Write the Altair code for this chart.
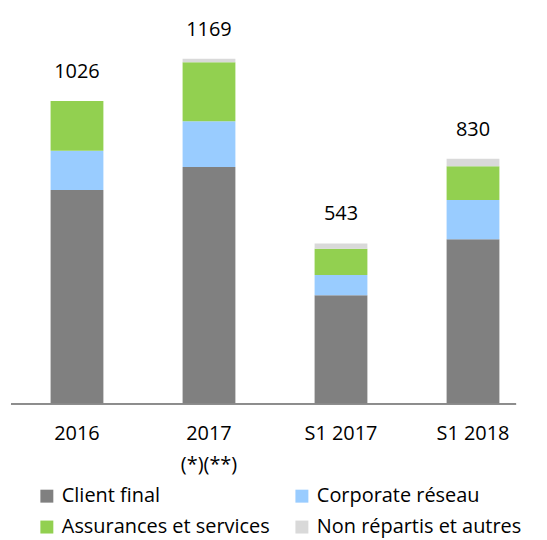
import altair as alt
import pandas as pd

categories = ["2016", "2017 (*)(**)", "S1 2017", "S1 2018"]
series = ["Client final", "Corporate réseau", "Assurances et services", "Non répartis et autres"]
client_final = [724, 802, 367, 557]
corporate_reseau = [133, 155, 69, 133]
assurances_services = [169, 200, 89, 115]
non_repartis = [0, 12, 18, 25]
totals = [1026, 1169, 543, 830]
colors = ["#808080", "#99CCFF", "#92D050", "#D9D9D9"]

rows = []
for i, c in enumerate(categories):
    for k, (s, vals) in enumerate(zip(series, [client_final, corporate_reseau, assurances_services, non_repartis])):
        rows.append({"cat": c, "serie": s, "value": vals[i], "ord": k})
df = pd.DataFrame(rows)
df_tot = pd.DataFrame({"cat": categories, "total": totals})

FONT = "Open Sans"
FS = 20

# legend is laid out column by column
legend_order = [series[0], series[2], series[1], series[3]]

xscale = alt.Scale(domain=categories, paddingInner=0.6, paddingOuter=0.3)
yscale = alt.Scale(domain=[0, 1321])

bars = alt.Chart(df).mark_bar().encode(
    x=alt.X("cat:N", scale=xscale, sort=categories, title=None,
            axis=alt.Axis(labelAngle=0, ticks=False, domain=False, labelPadding=20,
                          labelFont=FONT, labelFontSize=FS, labelColor="#000000",
                          labelLineHeight=31,
                          labelExpr="datum.label == '2017 (*)(**)' ? ['2017', '(*)(**)'] : datum.label")),
    y=alt.Y("value:Q", stack="zero", scale=yscale, axis=None),
    color=alt.Color("serie:N", scale=alt.Scale(domain=series, range=colors),
                    legend=alt.Legend(title=None, orient="none", legendX=26, legendY=474,
                                      values=legend_order,
                                      columns=2, columnPadding=22, rowPadding=11,
                                      symbolType="square", symbolSize=169, symbolStrokeWidth=0,
                                      labelOffset=5, labelFont=FONT, labelFontSize=FS,
                                      labelColor="#000000", padding=0, labelLimit=400)),
    order=alt.Order("ord:Q", sort="ascending"),
)

labels = alt.Chart(df_tot).mark_text(font=FONT, fontSize=FS, color="#000000",
                                     baseline="alphabetic", dy=-23).encode(
    x=alt.X("cat:N", scale=xscale, sort=categories),
    y=alt.Y("total:Q", scale=yscale),
    text=alt.Text("total:Q"),
)

baseline = alt.Chart(df_tot).mark_rule(color="#868686", strokeWidth=1).encode(
    x=alt.value(0), x2=alt.value(507), y=alt.value(391.5)
)

chart = alt.layer(bars, labels, baseline).properties(
    width=530, height=391,
    autosize=alt.AutoSizeParams(type="none"),
    padding={"left": 3, "top": 5, "right": 0, "bottom": 135},
).configure_view(stroke=None)

chart.save("out.html", embed_options={"renderer": "svg", "actions": False})
